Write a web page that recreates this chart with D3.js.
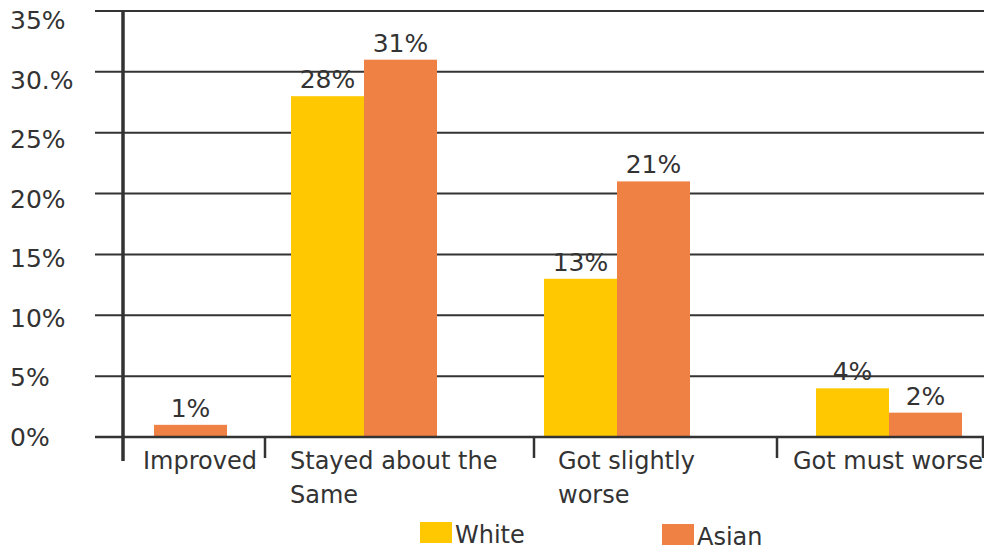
<!DOCTYPE html>
<html>
<head>
<meta charset="utf-8">
<script src="https://cdn.jsdelivr.net/npm/d3@7"></script>
<style>
  html, body { margin: 0; padding: 0; background: #fff; }
  svg { display: block; font-family: "DejaVu Sans", sans-serif; }
</style>
</head>
<body>
<svg id="chart" width="984" height="550"></svg>
<script>
// Categories, series and tick labels
const categories = ["Improved", "Stayed about the Same", "Got slightly worse", "Got must worse"];
const categoryLines = [["Improved"], ["Stayed about the", "Same"], ["Got slightly", "worse"], ["Got must worse"]];
const seriesNames = ["White", "Asian"];
const whiteValues = [0, 28, 13, 4];
const asianValues = [1, 31, 21, 2];
const tickValues = [0, 5, 10, 15, 20, 25, 30, 35];
const tickLabels = ["0%", "5%", "10%", "15%", "20%", "25%", "30.%", "35%"];
const colors = ["#FFC800", "#F08145"];

const svg = d3.select("#chart");
const ink = "#333333";

// Vertical scale for gridlines and bars
const y = d3.scaleLinear().domain([0, 35]).range([437, 11]);
// Tick text sits on an evenly spaced track beside the gridlines
const yText = d3.scaleLinear().domain([0, 35]).range([437, 20]);

// Group centres and divider positions along the horizontal axis
const xCenter = d3.scaleOrdinal().domain(categories).range([154, 364, 617, 889]);
const xDivider = d3.scaleOrdinal().domain(categories).range([265, 534, 777, 983]);
const xLabel = d3.scaleOrdinal().domain(categories).range([143, 290, 558, 793]);
const xSub = d3.scaleBand().domain(seriesNames).range([-73, 73]).padding(0);

// Gridlines
svg.append("g")
  .selectAll("line")
  .data(tickValues)
  .join("line")
  .attr("x1", 95).attr("x2", 984)
  .attr("y1", d => y(d)).attr("y2", d => y(d))
  .attr("stroke", ink).attr("stroke-width", 2);

// Tick labels
svg.append("g")
  .selectAll("text")
  .data(tickValues)
  .join("text")
  .attr("x", 10)
  .attr("y", d => yText(d))
  .attr("dy", "0.36em")
  .attr("font-size", 25)
  .attr("fill", ink)
  .text((d, i) => tickLabels[i]);

// Bars
const rows = categories.map((c, i) => ({ cat: c, vals: [whiteValues[i], asianValues[i]] }));
const groups = svg.append("g")
  .selectAll("g")
  .data(rows)
  .join("g")
  .attr("transform", d => `translate(${xCenter(d.cat)},0)`);

groups.selectAll("rect")
  .data(d => d.vals.map((v, j) => ({ v, s: seriesNames[j], j })).filter(e => e.v > 0))
  .join("rect")
  .attr("x", d => xSub(d.s))
  .attr("width", xSub.bandwidth())
  .attr("y", d => y(d.v))
  .attr("height", d => y(0) - y(d.v))
  .attr("fill", d => colors[d.j]);

// Value labels
groups.selectAll("text")
  .data(d => d.vals.map((v, j) => ({ v, s: seriesNames[j] })).filter(e => e.v > 0))
  .join("text")
  .attr("x", d => xSub(d.s) + xSub.bandwidth() / 2)
  .attr("y", d => y(d.v) - 8)
  .attr("text-anchor", "middle")
  .attr("font-size", 25)
  .attr("fill", ink)
  .text(d => d.v + "%");

// Baseline redrawn over bar feet
svg.append("line")
  .attr("x1", 95).attr("x2", 984)
  .attr("y1", y(0)).attr("y2", y(0))
  .attr("stroke", ink).attr("stroke-width", 2.5);

// Vertical axis line
svg.append("line")
  .attr("x1", 123).attr("x2", 123)
  .attr("y1", y(35)).attr("y2", 461)
  .attr("stroke", ink).attr("stroke-width", 3.5);

// Category dividers
svg.append("g")
  .selectAll("line")
  .data(categories)
  .join("line")
  .attr("x1", d => xDivider(d)).attr("x2", d => xDivider(d))
  .attr("y1", y(0)).attr("y2", 458)
  .attr("stroke", ink).attr("stroke-width", 2.5);

// Category labels
svg.append("g")
  .selectAll("text")
  .data(categories)
  .join("text")
  .attr("x", d => xLabel(d))
  .attr("y", 469)
  .attr("font-size", 24)
  .attr("fill", ink)
  .each(function(d, i) {
    d3.select(this).selectAll("tspan")
      .data(categoryLines[i])
      .join("tspan")
      .attr("x", xLabel(d))
      .attr("dy", (t, k) => k === 0 ? 0 : 34)
      .text(t => t);
  });

// Legend
const legendX = [420, 662];
const legendY = [522, 524];
const legend = svg.append("g")
  .selectAll("g")
  .data(seriesNames)
  .join("g")
  .attr("transform", (d, i) => `translate(${legendX[i]},${legendY[i]})`);
legend.append("rect")
  .attr("width", 32).attr("height", 21)
  .attr("fill", (d, i) => colors[i]);
legend.append("text")
  .attr("x", 35).attr("y", 21)
  .attr("font-size", 24)
  .attr("fill", ink)
  .text(d => d);
</script>
</body>
</html>
